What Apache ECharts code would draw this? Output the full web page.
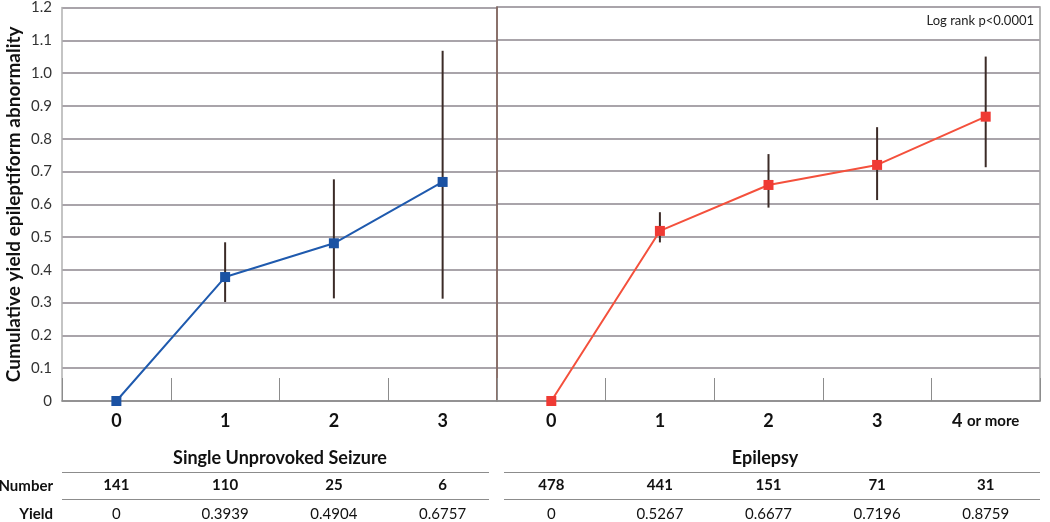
<!DOCTYPE html>
<html>
<head>
<meta charset="utf-8">
<script src="https://cdn.jsdelivr.net/npm/echarts@6/dist/echarts.min.js"></script>
<style>
  html, body { margin: 0; padding: 0; background: #fff; }
  #chart { width: 1050px; height: 522px; }
</style>
</head>
<body>
<div id="chart"></div>
<script>
// categories
var seizureCats = ['0', '1', '2', '3'];
var epilepsyCats = ['0', '1', '2', '3', '4 or more'];

// plotted cumulative yield
var seizureYield = [0, 0.378, 0.481, 0.668];
var epilepsyYield = [0, 0.518, 0.658, 0.719, 0.866];

// error bar low / high
var seizureLow = [null, 0.302, 0.313, 0.312];
var seizureHigh = [null, 0.484, 0.676, 1.068];
var epilepsyLow = [null, 0.483, 0.589, 0.612, 0.712];
var epilepsyHigh = [null, 0.575, 0.752, 0.834, 1.049];

// table rows
var seizureNumber = ['141', '110', '25', '6'];
var seizureTable = ['0', '0.3939', '0.4904', '0.6757'];
var epilepsyNumber = ['478', '441', '151', '71', '31'];
var epilepsyTable = ['0', '0.5267', '0.6677', '0.7196', '0.8759'];

var FONT = 'Lato, "Open Sans", sans-serif';
var gridColor = '#a9a4aa';

function errBars(low, high) {
  var d = [];
  for (var i = 0; i < low.length; i++) {
    if (low[i] != null) d.push([i, low[i], high[i]]);
  }
  return d;
}

function renderErr(params, api) {
  var lo = api.coord([api.value(0), api.value(1)]);
  var hi = api.coord([api.value(0), api.value(2)]);
  return {
    type: 'line',
    shape: { x1: lo[0], y1: lo[1], x2: hi[0], y2: hi[1] },
    style: { stroke: '#3b2b27', lineWidth: 2 }
  };
}

function tableAxis(gridIndex, cats, offset, bold) {
  return {
    type: 'category', gridIndex: gridIndex, data: cats, position: 'bottom', offset: offset,
    axisLine: { show: false }, axisTick: { show: false }, splitLine: { show: false },
    axisLabel: { margin: 0, interval: 0, fontFamily: FONT, fontSize: 15,
      fontWeight: bold ? 'bold' : 'normal', color: '#111', verticalAlign: 'middle' }
  };
}

function mainAxis(gridIndex, cats) {
  return {
    type: 'category', gridIndex: gridIndex, data: cats, boundaryGap: true,
    axisLine: { show: true, lineStyle: { color: '#8c8c8c', width: 1.5 } },
    axisTick: { show: true, inside: true, length: 23, lineStyle: { color: '#8c8c8c', width: 1 } },
    axisLabel: {
      margin: 11, interval: 0, fontFamily: FONT, fontSize: 18, fontWeight: 'bold', color: '#111',
      formatter: function (v) {
        if (v === '4 or more') return '{a|4} {b|or more}';
        return '{a|' + v + '}';
      },
      rich: {
        a: { fontFamily: FONT, fontSize: 18, fontWeight: 'bold', color: '#111' },
        b: { fontFamily: FONT, fontSize: 15, fontWeight: 'bold', color: '#111' }
      }
    }
  };
}

var yBase = {
  type: 'value', min: 0, max: 1.2, interval: 0.1,
  splitLine: { show: true, lineStyle: { color: gridColor, width: 2 } },
  axisTick: { show: false }
};

var chart = echarts.init(document.getElementById('chart'));
chart.setOption({
  animation: false,
  grid: [
    { left: 62, top: 7, width: 435, height: 394 },
    { left: 497, top: 7, width: 543, height: 394, show: true, borderColor: '#a0a0a0', borderWidth: 1.5 }
  ],
  xAxis: [
    mainAxis(0, seizureCats),
    mainAxis(1, epilepsyCats),
    tableAxis(0, seizureNumber, 84, true),
    tableAxis(0, seizureTable, 113, false),
    tableAxis(1, epilepsyNumber, 84, true),
    tableAxis(1, epilepsyTable, 113, false)
  ],
  yAxis: [
    Object.assign({}, yBase, {
      gridIndex: 0,
      axisLine: { show: true, lineStyle: { color: '#b0b0b0', width: 1.5 } },
      axisLabel: { margin: 10, fontFamily: FONT, fontSize: 15, color: '#333',
        formatter: function (v) { return v === 0 ? '0' : v.toFixed(1); } },
      name: 'Cumulative yield epileptiform abnormality',
      nameLocation: 'middle', nameGap: 39,
      nameTextStyle: { fontFamily: FONT, fontSize: 19, fontWeight: 'bold', color: '#111' }
    }),
    Object.assign({}, yBase, {
      gridIndex: 1,
      axisLine: { show: true, lineStyle: { color: '#7b5a52', width: 1.5 } },
      axisLabel: { show: false }
    })
  ],
  series: [
    {
      type: 'custom', xAxisIndex: 0, yAxisIndex: 0, renderItem: renderErr,
      data: errBars(seizureLow, seizureHigh), z: 2
    },
    {
      type: 'custom', xAxisIndex: 1, yAxisIndex: 1, renderItem: renderErr,
      data: errBars(epilepsyLow, epilepsyHigh), z: 2
    },
    {
      type: 'line', xAxisIndex: 0, yAxisIndex: 0, data: seizureYield, z: 3,
      symbol: 'rect', symbolSize: 10, showAllSymbol: true,
      lineStyle: { color: '#1f5aae', width: 2 }, itemStyle: { color: '#1b52a3' }
    },
    {
      type: 'line', xAxisIndex: 1, yAxisIndex: 1, data: epilepsyYield, z: 3,
      symbol: 'rect', symbolSize: 10, showAllSymbol: true,
      lineStyle: { color: '#f4503c', width: 2 }, itemStyle: { color: '#ef3a34' }
    }
  ],
  graphic: [
    { type: 'text', right: 16, top: 14, style: { text: 'Log rank p<0.0001', fontFamily: FONT, fontSize: 13, fill: '#222' } },
    { type: 'text', x: 280, y: 458, style: { text: 'Single Unprovoked Seizure', fontFamily: FONT, fontSize: 18, fontWeight: 'bold', fill: '#111', align: 'center', verticalAlign: 'middle' } },
    { type: 'text', x: 765, y: 458, style: { text: 'Epilepsy', fontFamily: FONT, fontSize: 18, fontWeight: 'bold', fill: '#111', align: 'center', verticalAlign: 'middle' } },
    { type: 'text', x: 53, y: 486, style: { text: 'Number', fontFamily: FONT, fontSize: 15, fontWeight: 'bold', fill: '#111', align: 'right', verticalAlign: 'middle' } },
    { type: 'text', x: 53, y: 514, style: { text: 'Yield', fontFamily: FONT, fontSize: 15, fontWeight: 'bold', fill: '#111', align: 'right', verticalAlign: 'middle' } },
    { type: 'line', shape: { x1: 62, y1: 472.5, x2: 489, y2: 472.5 }, style: { stroke: '#8c8c8c', lineWidth: 1.2 } },
    { type: 'line', shape: { x1: 62, y1: 499.5, x2: 489, y2: 499.5 }, style: { stroke: '#8c8c8c', lineWidth: 1.2 } },
    { type: 'line', shape: { x1: 504, y1: 472.5, x2: 1040, y2: 472.5 }, style: { stroke: '#8c8c8c', lineWidth: 1.2 } },
    { type: 'line', shape: { x1: 504, y1: 499.5, x2: 1040, y2: 499.5 }, style: { stroke: '#8c8c8c', lineWidth: 1.2 } }
  ]
});
</script>
</body>
</html>
